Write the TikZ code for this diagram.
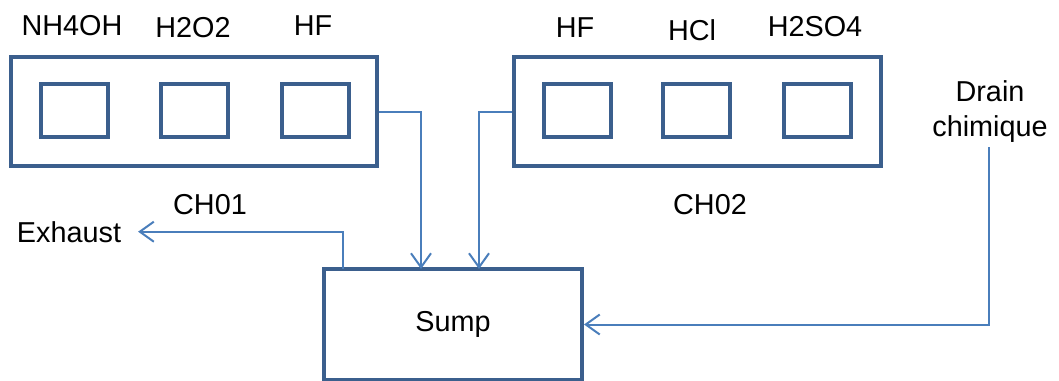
\documentclass[tikz,border=0pt]{standalone}
\usepackage{fontspec}
\setmainfont{Liberation Sans}
\usetikzlibrary{arrows.meta}

\definecolor{boxblue}{HTML}{3B5F8D}
\definecolor{pipeblue}{HTML}{4A7EBB}

\tikzset{
  chamber/.style={draw=boxblue, line width=2pt, inner sep=0pt, minimum width=183pt, minimum height=54.5pt},
  bath/.style={draw=boxblue, line width=2pt, inner sep=0pt, minimum width=33.5pt, minimum height=26.5pt},
  sumpbox/.style={draw=boxblue, line width=2pt, minimum width=129pt, minimum height=55.5pt},
  pipe/.style={draw=pipeblue, line width=1pt},
}

\begin{document}
\begin{tikzpicture}[ >={Straight Barb[length=7pt,width=10pt]}, x=0.5pt, y=-0.5pt, font=\fontsize{14.4}{16}\selectfont ]

\useasboundingbox (0,0) rectangle (1059,380);

\node[chamber] (ch01) at (194,111.5) {};
\node[bath] (b1) at (74.5,110.5) {};
\node[bath] (b2) at (194.5,110.5) {};
\node[bath] (b3) at (315.5,110.5) {};
\node[anchor=base] (l1) at (72,35) {NH4OH};
\node[anchor=base] (l2) at (193,37) {H2O2};
\node[anchor=base] (l3) at (313,35) {HF};
\node[anchor=base] (n1) at (210,214) {CH01};

\node[chamber, minimum width=183.5pt] (ch02) at (697.5,111.5) {};
\node[bath] (b4) at (577,110.5) {};
\node[bath] (b5) at (696.5,110.5) {};
\node[bath] (b6) at (817.5,110.5) {};
\node[anchor=base] (l4) at (575,37) {HF};
\node[anchor=base] (l5) at (692,40) {HCl};
\node[anchor=base] (l6) at (815,36) {H2SO4};
\node[anchor=base] (n2) at (710,214) {CH02};

\node[sumpbox] (sump) at (453,324.5) {Sump};

\node[anchor=base] (exhaust) at (69,242) {Exhaust};
\node[align=center, font=\fontsize{14.4}{17.5}\selectfont] (drain) at (990,111.5) {Drain\\chimique};

\coordinate (in1) at (421,269);
\coordinate (in2) at (479,269);
\coordinate (out1) at (343,269);
\coordinate (drainout) at (989,147);

\draw[pipe,->] (ch01.east) -| (in1);
\draw[pipe,->] (ch02.west) -| (in2);
\draw[pipe,->,shorten >=5pt] (out1) |- (exhaust.east);
\draw[pipe,->] (drainout) |- (sump.east);

\end{tikzpicture}
\end{document}
